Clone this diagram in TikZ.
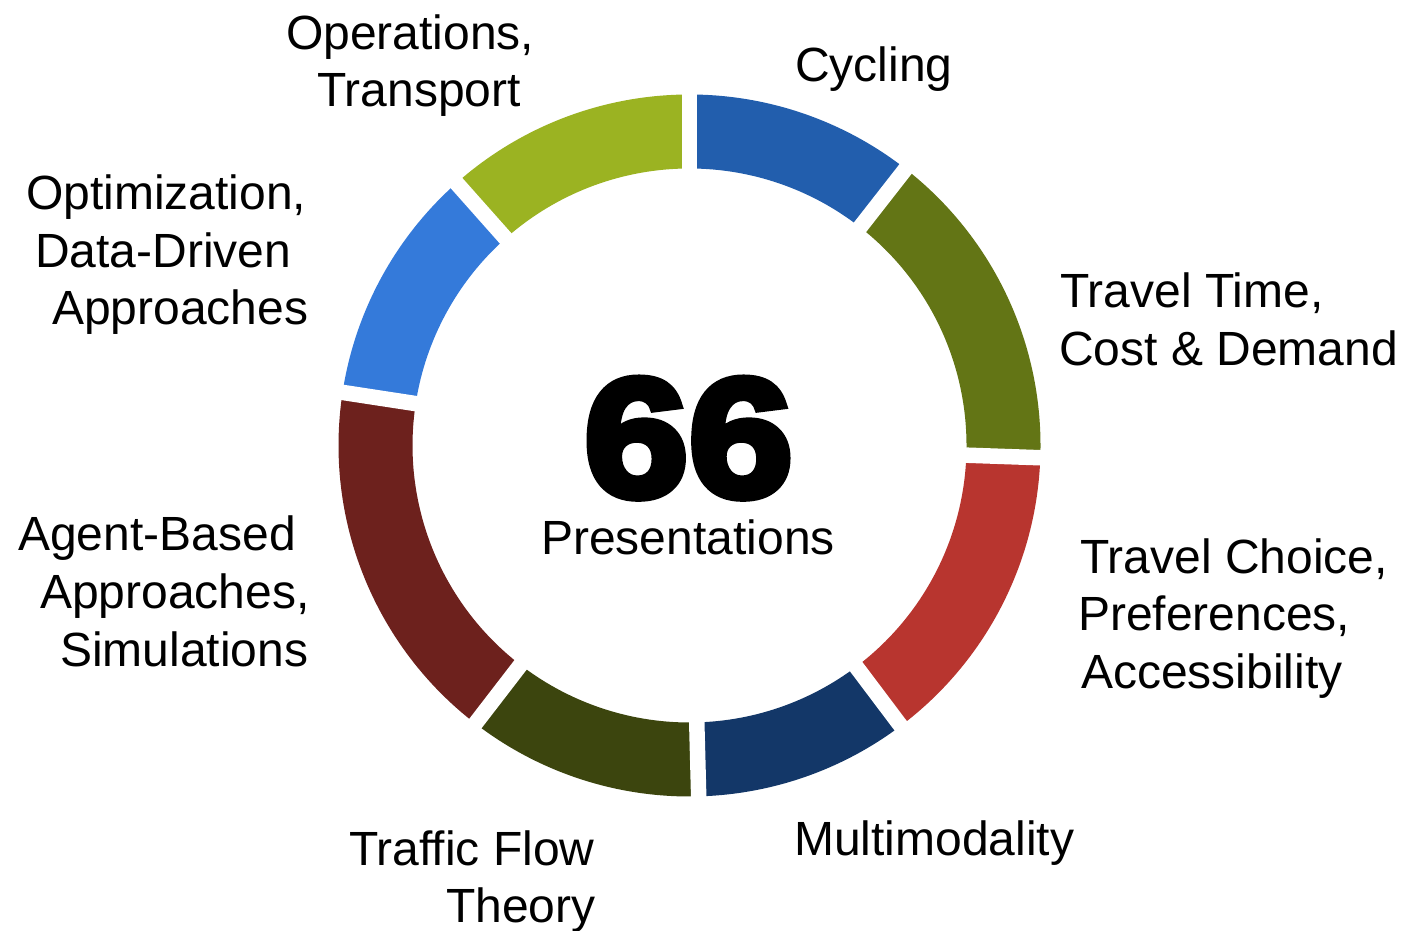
\documentclass[tikz,border=0pt]{standalone}
\usepackage{fontspec}
\setmainfont{Liberation Sans}
\newfontfamily\bignumfont{Liberation Sans Bold}[FakeBold=5,FakeStretch=1.12]
\definecolor{cCyc}{HTML}{225EAD}
\definecolor{cTT}{HTML}{637515}
\definecolor{cTC}{HTML}{B8352F}
\definecolor{cMM}{HTML}{133768}
\definecolor{cTF}{HTML}{3C450E}
\definecolor{cAB}{HTML}{6D211D}
\definecolor{cOpt}{HTML}{347ADA}
\definecolor{cOps}{HTML}{9BB322}
\newcommand\labfont{\fontsize{48}{57}\selectfont}
\newcommand\ringseg[3]{%
  \fill[#3] (#1:351) arc[start angle=#1,end angle=#2,radius=351]
    -- (#2:277) arc[start angle=#2,end angle=#1,radius=277] -- cycle;}
\begin{document}
\begin{tikzpicture}[x=1pt,y=1pt,
  lab/.style={font=\labfont, inner sep=0pt, text=black},
  gap/.style={draw=white, line width=15.5pt}]
\useasboundingbox (0,0) rectangle (1402,930);
\begin{scope}[shift={(689.5,484.5)}]
  \ringseg{90}{52}{cCyc}
  \ringseg{52}{-2}{cTT}
  \ringseg{-2}{-53}{cTC}
  \ringseg{-53}{-88.5}{cMM}
  \ringseg{-88.5}{-127.6}{cTF}
  \ringseg{-127.6}{-188.7}{cAB}
  \ringseg{171.3}{131.6}{cOpt}
  \ringseg{131.6}{90}{cOps}
  \foreach \a in {90,52,-2,-53,-88.5,-127.6,171.3,131.6}
    \draw[gap] (\a:265) -- (\a:365);
\end{scope}
% centre
\node[inner sep=0pt, anchor=base, text depth=0pt, font=\bignumfont\fontsize{168}{168}\selectfont] (num) at (688.5,434) {66};
\node[lab, anchor=base, text height=35pt] (pres) at (688,376) {Presentations};
% labels
\node[lab, anchor=base west] (ops1) at (286,880) {Operations,};
\node[lab, anchor=base west] (ops2) at (317,823) {Transport};
\node[lab, anchor=base west] (cyc) at (795,848) {Cycling};
\node[lab, anchor=base west] (opt1) at (26,720) {Optimization,};
\node[lab, anchor=base west] (opt2) at (35,662) {Data-Driven};
\node[lab, anchor=base west] (opt3) at (52,605) {Approaches};
\node[lab, anchor=base west] (tt1) at (1060,622) {Travel Time,};
\node[lab, anchor=base west] (tt2) at (1059,564) {Cost \& Demand};
\node[lab, anchor=base west] (ab1) at (18,380) {Agent-Based};
\node[lab, anchor=base west] (ab2) at (40,322) {Approaches,};
\node[lab, anchor=base west] (ab3) at (60,264) {Simulations};
\node[lab, anchor=base west] (tc1) at (1080,357) {Travel Choice,};
\node[lab, anchor=base west] (tc2) at (1078,300) {Preferences,};
\node[lab, anchor=base west] (tc3) at (1081,242) {Accessibility};
\node[lab, anchor=base west] (mm) at (794,75) {Multimodality};
\node[lab, anchor=base west] (tf1) at (349,65) {Traffic Flow};
\node[lab, anchor=base west] (tf2) at (446,8) {Theory};
\end{tikzpicture}
\end{document}
